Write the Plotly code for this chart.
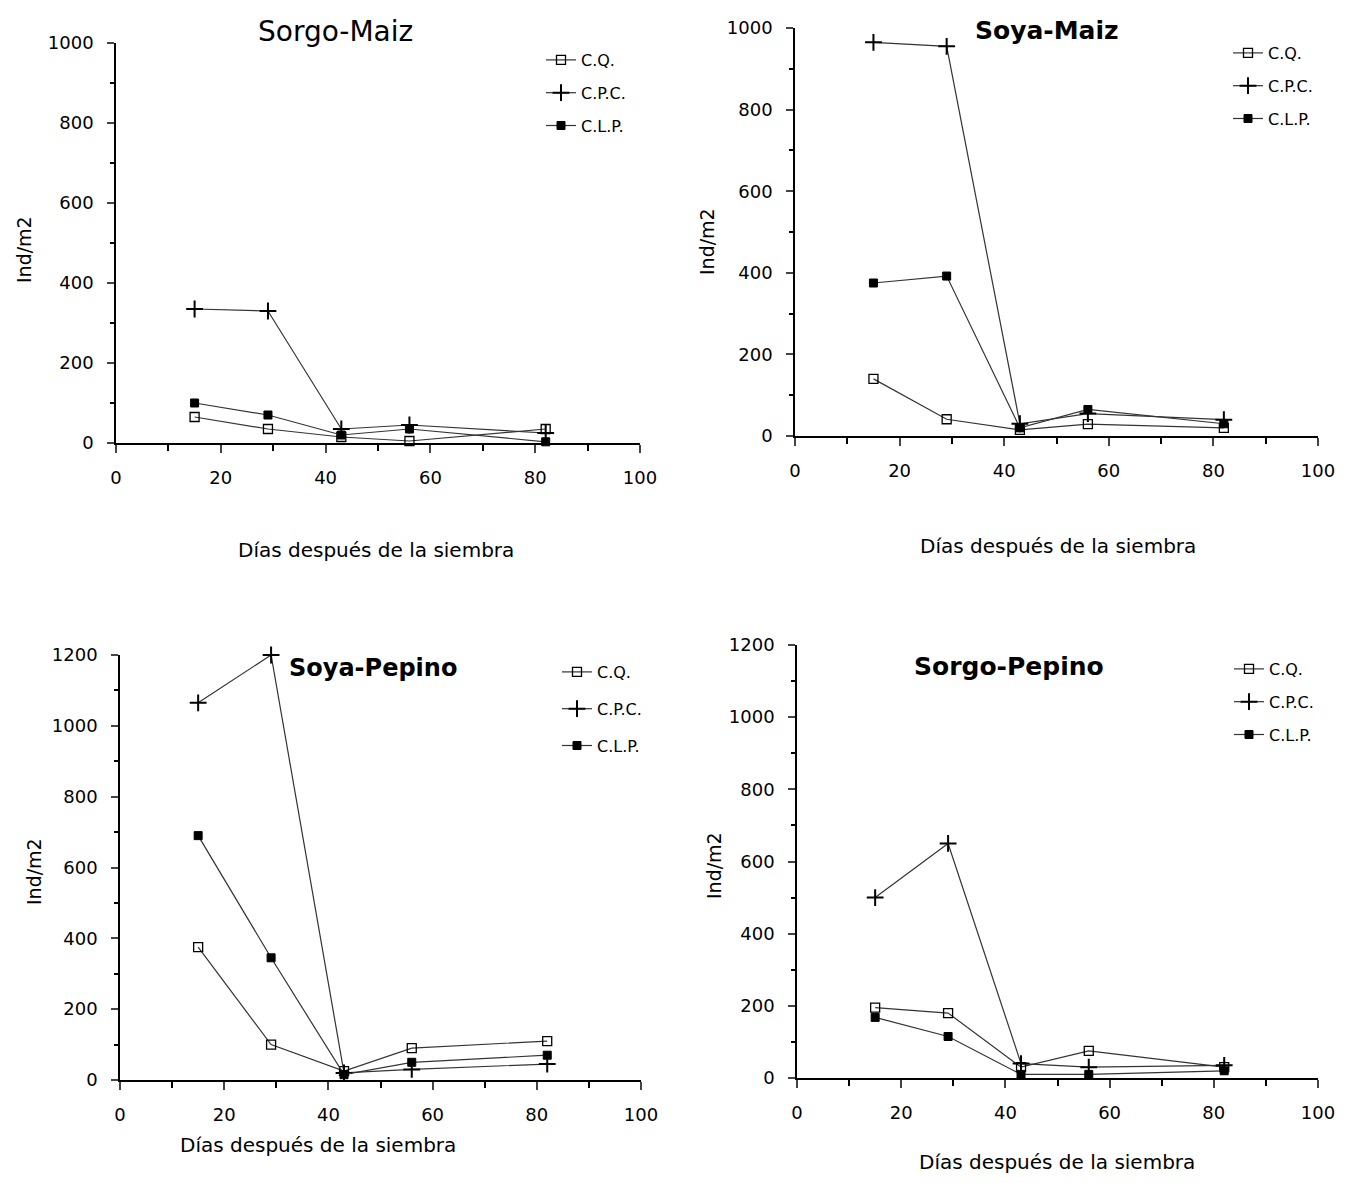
import plotly.graph_objects as go

W, H = 1349, 1183

days = [15, 29, 43, 56, 82]
series_names = ["C.Q.", "C.P.C.", "C.L.P."]

titles = ["Sorgo-Maiz", "Soya-Maiz", "Soya-Pepino", "Sorgo-Pepino"]

# values (Ind/m2) per panel: C.Q., C.P.C., C.L.P.
sorgo_maiz_cq = [65, 35, 15, 5, 35]
sorgo_maiz_cpc = [335, 330, 35, 45, 25]
sorgo_maiz_clp = [100, 70, 20, 35, 3]

soya_maiz_cq = [140, 41, 15, 29, 20]
soya_maiz_cpc = [965, 955, 30, 55, 40]
soya_maiz_clp = [375, 392, 20, 65, 30]

soya_pepino_cq = [375, 100, 25, 90, 110]
soya_pepino_cpc = [1065, 1200, 20, 30, 45]
soya_pepino_clp = [690, 345, 15, 50, 70]

sorgo_pepino_cq = [195, 180, 30, 75, 30]
sorgo_pepino_cpc = [500, 650, 40, 30, 35]
sorgo_pepino_clp = [168, 115, 10, 10, 20]

panel_data = [
    (sorgo_maiz_cq, sorgo_maiz_cpc, sorgo_maiz_clp),
    (soya_maiz_cq, soya_maiz_cpc, soya_maiz_clp),
    (soya_pepino_cq, soya_pepino_cpc, soya_pepino_clp),
    (sorgo_pepino_cq, sorgo_pepino_cpc, sorgo_pepino_clp),
]
y_max = [1000, 1000, 1200, 1200]
x_ticks = [0, 20, 40, 60, 80, 100]

# layout in pixels: (x0, x100, y0px, ymaxpx)
px = [
    (116, 640, 443, 43),
    (795, 1318, 436, 28),
    (120, 641, 1080, 655),
    (797, 1318, 1078, 645),
]
title_pos = [(335, 32), (1047, 31), (373, 668), (1009, 666)]
title_size = [28, 25, 24, 25]
title_bold = [False, True, True, True]
ytitle_pos = [(24, 250), (707, 242), (34, 872), (714, 866)]
xtitle_pos = [(376, 550), (1058, 546), (318, 1145), (1057, 1162)]
legend_pos = [(541, 43), (1228, 36), (557, 655), (1229, 652)]
legend_gap = [9, 9, 13, 9]

font = "DejaVu Sans"
styles = [
    dict(symbol="square-open", size=9, color="black", line=dict(width=1.3, color="black")),
    dict(symbol="cross-thin", size=12, color="black", line=dict(width=2, color="black")),
    dict(symbol="square", size=8, color="black", line=dict(width=1, color="black")),
]

fig = go.Figure()
annotations = []
for i in range(4):
    xa = "x" if i == 0 else f"x{i+1}"
    ya = "y" if i == 0 else f"y{i+1}"
    lg = "legend" if i == 0 else f"legend{i+1}"
    for k, name in enumerate(series_names):
        fig.add_trace(go.Scatter(
            x=days, y=panel_data[i][k], name=name, mode="lines+markers",
            line=dict(color="#333333", width=1.2),
            marker=styles[k], xaxis=xa, yaxis=ya, legend=lg, cliponaxis=False,
            legendgroup=f"p{i}s{k}",
        ))
    x0, x1, y0, y1 = px[i]
    dom_x = [x0 / W, x1 / W]
    dom_y = [1 - y0 / H, 1 - y1 / H]
    axkey_x = "xaxis" if i == 0 else f"xaxis{i+1}"
    axkey_y = "yaxis" if i == 0 else f"yaxis{i+1}"
    fig.update_layout(**{
        axkey_x: dict(domain=dom_x, range=[0, 100], anchor=ya, tickvals=x_ticks,
                      ticks="outside", ticklen=8, tickwidth=1.5, showline=True,
                      linecolor="black", linewidth=1.5, showgrid=False, zeroline=False,
                      automargin=False, ticklabelstandoff=10,
                      minor=dict(dtick=10, ticks="outside", ticklen=6, tickcolor="black"),
                      tickfont=dict(family=font, size=18, color="black")),
        axkey_y: dict(domain=dom_y, range=[0, y_max[i]], anchor=xa, dtick=200,
                      ticks="outside", ticklen=7, tickwidth=1.5, showline=True,
                      linecolor="black", linewidth=1.5, showgrid=False, zeroline=False,
                      automargin=False, ticklabelstandoff=10,
                      minor=dict(dtick=100, ticks="outside", ticklen=4, tickcolor="black"),
                      tickfont=dict(family=font, size=18, color="black")),
        lg: dict(x=legend_pos[i][0] / W, y=1 - legend_pos[i][1] / H, xanchor="left",
                 yanchor="top", bgcolor="rgba(0,0,0,0)", tracegroupgap=legend_gap[i],
                 traceorder="grouped",
                 font=dict(family=font, size=16, color="black"), itemwidth=30),
    })
    ttxt = f"<b>{titles[i]}</b>" if title_bold[i] else titles[i]
    annotations.append(dict(text=ttxt, x=title_pos[i][0] / W, xanchor="center",
                            y=1 - title_pos[i][1] / H, yanchor="middle",
                            xref="paper", yref="paper",
                            showarrow=False, font=dict(family=font, size=title_size[i], color="black")))
    annotations.append(dict(text="Ind/m2", x=ytitle_pos[i][0] / W, y=1 - ytitle_pos[i][1] / H,
                            xanchor="center", yanchor="middle",
                            xref="paper", yref="paper", showarrow=False, textangle=-90,
                            font=dict(family=font, size=19, color="black")))
    annotations.append(dict(text="Días después de la siembra", x=xtitle_pos[i][0] / W,
                            y=1 - xtitle_pos[i][1] / H, xanchor="center", yanchor="middle",
                            xref="paper", yref="paper",
                            showarrow=False, font=dict(family=font, size=20, color="black")))

fig.update_layout(
    template="none",
    width=W, height=H, autosize=False,
    margin=dict(l=0, r=0, t=0, b=0, pad=0),
    paper_bgcolor="white", plot_bgcolor="white",
    annotations=annotations, showlegend=True,
)
fig.write_html("out.html", config={"displayModeBar": False},
               post_script="document.body.style.margin='0';")
